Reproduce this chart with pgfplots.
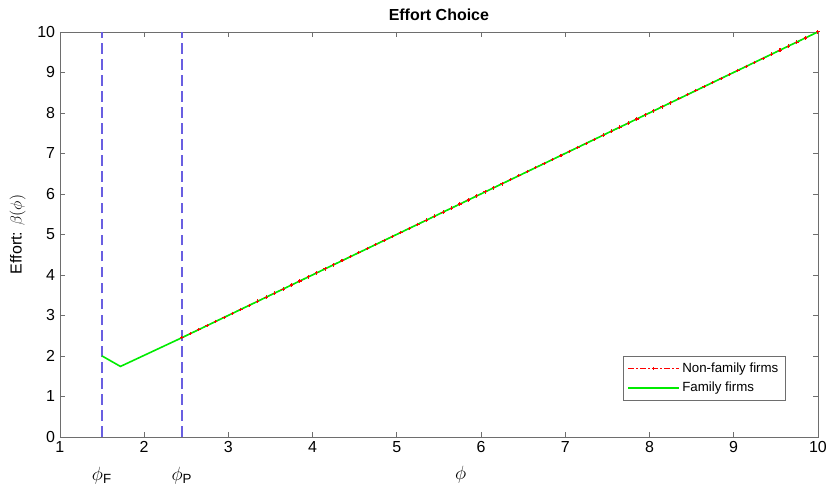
\documentclass[border=0pt]{standalone}
\usepackage{pgfplots}
\pgfplotsset{compat=1.18}
\usepackage{fontspec}
\setmainfont{Liberation Sans}
\definecolor{vline}{RGB}{105,95,225}
\definecolor{axgray}{RGB}{110,110,110}
\definecolor{famgreen}{RGB}{0,235,0}
\begin{document}
\begin{tikzpicture}
\begin{axis}[
    scale only axis,
    width=570pt, height=304.5pt,
    xmin=1, xmax=10, ymin=0, ymax=10,
    xtick={1,...,10}, ytick={0,...,10},
    tick align=inside,
    tick style={axgray, thin},
    major tick length=4pt,
    axis line style={axgray},
    every tick label/.append style={font=\large},
    /pgf/number format/assume math mode=true,
    title={\textbf{Effort Choice}},
    title style={font=\large, yshift=-1pt},
    ylabel={Effort: $\beta(\phi)$},
    ylabel style={font=\large, yshift=2pt},
    clip=false,
    legend cell align=left,
    legend style={at={(0.957,0.089)}, anchor=south east, draw=axgray,
        font=\normalsize, inner sep=3pt, row sep=2pt},
    legend image code/.code={
        \draw[mark repeat=2, mark phase=2, #1] plot coordinates {(0pt,0pt) (19pt,0pt) (38pt,0pt)};},
]
\addplot[draw=vline, line width=1.1pt, dash pattern=on 8pt off 4pt, forget plot] coordinates {(1.5,0) (1.5,10)};
\addplot[draw=vline, line width=1.1pt, dash pattern=on 8pt off 4pt, forget plot] coordinates {(2.45,0) (2.45,10)};
\addplot[color=red, line width=0.8pt, dash pattern=on 4pt off 2pt on 1pt off 2pt, mark=+, mark size=1.3pt, mark options={solid}] coordinates {
(2.45,2.45) (2.55,2.55) (2.65,2.65) (2.75,2.75) (2.85,2.85) (2.95,2.95) (3.05,3.05) (3.15,3.15) (3.25,3.25) (3.35,3.35)
(3.45,3.45) (3.55,3.55) (3.65,3.65) (3.75,3.75) (3.85,3.85) (3.95,3.95) (4.05,4.05) (4.15,4.15) (4.25,4.25) (4.35,4.35)
(4.45,4.45) (4.55,4.55) (4.65,4.65) (4.75,4.75) (4.85,4.85) (4.95,4.95) (5.05,5.05) (5.15,5.15) (5.25,5.25) (5.35,5.35)
(5.45,5.45) (5.55,5.55) (5.65,5.65) (5.75,5.75) (5.85,5.85) (5.95,5.95) (6.05,6.05) (6.15,6.15) (6.25,6.25) (6.35,6.35)
(6.45,6.45) (6.55,6.55) (6.65,6.65) (6.75,6.75) (6.85,6.85) (6.95,6.95) (7.05,7.05) (7.15,7.15) (7.25,7.25) (7.35,7.35)
(7.45,7.45) (7.55,7.55) (7.65,7.65) (7.75,7.75) (7.85,7.85) (7.95,7.95) (8.05,8.05) (8.15,8.15) (8.25,8.25) (8.35,8.35)
(8.45,8.45) (8.55,8.55) (8.65,8.65) (8.75,8.75) (8.85,8.85) (8.95,8.95) (9.05,9.05) (9.15,9.15) (9.25,9.25) (9.35,9.35)
(9.45,9.45) (9.55,9.55) (9.65,9.65) (9.75,9.75) (9.85,9.85) (10,10)};
\addlegendentry{Non-family firms}
\addplot[color=famgreen, line width=1.2pt, no markers] coordinates {
(1.5,2.0) (1.72,1.74) (2.45,2.45) (10,10)};
\addlegendentry{Family firms}
\node[font=\Large] at (axis cs:1.5,0) [yshift=-29pt] {$\phi_{\mathrm{F}}$};
\node[font=\Large] at (axis cs:2.45,0) [yshift=-29pt] {$\phi_{\mathrm{P}}$};
\node[font=\Large] at (axis cs:5.76,0) [yshift=-28.5pt] {$\phi$};
\coordinate (bbl) at (rel axis cs:-0.0789,-0.1256);
\coordinate (btr) at (rel axis cs:1.012,1.0788);
\end{axis}
\pgfresetboundingbox
\path[use as bounding box] (bbl) rectangle (btr);
\end{tikzpicture}
\end{document}
